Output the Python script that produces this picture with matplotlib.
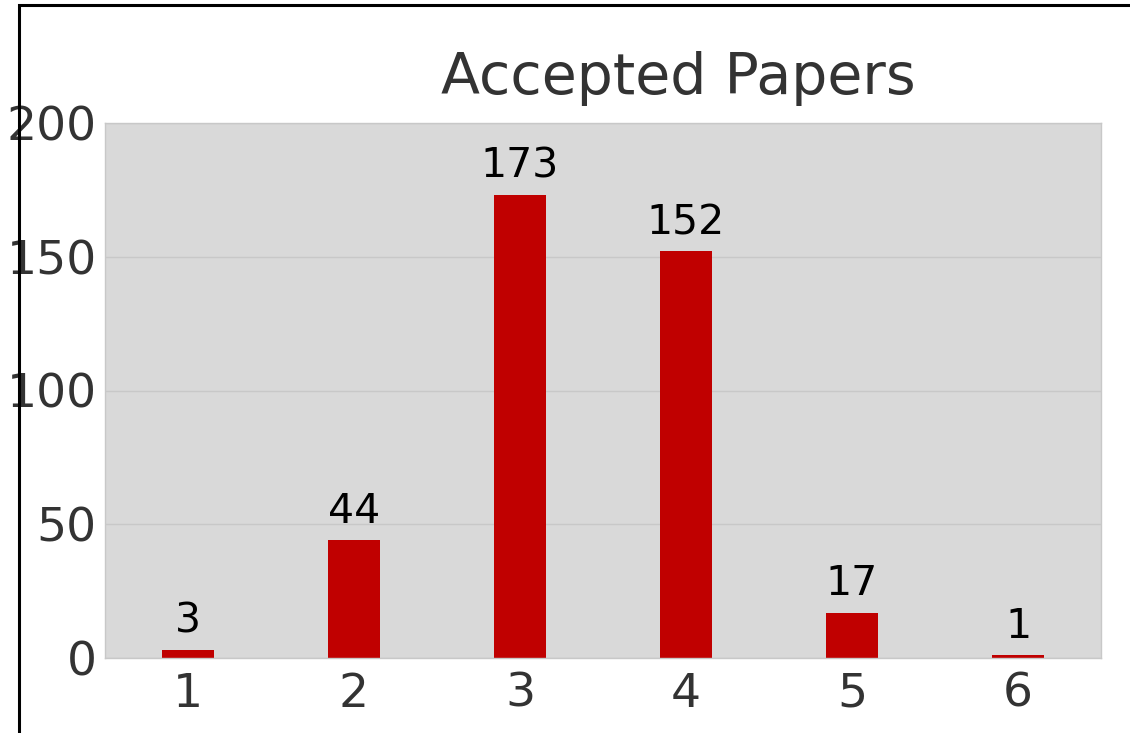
import matplotlib
matplotlib.use("Agg")
import matplotlib.pyplot as plt
from matplotlib.patches import Rectangle

categories = [1, 2, 3, 4, 5, 6]
values = [3, 44, 173, 152, 17, 1]
yticks = [0, 50, 100, 150, 200]
title = "Accepted Papers"

W, H = 1130, 733
fig = plt.figure(figsize=(W / 100, H / 100), dpi=100)
ax = fig.add_axes([105 / W, 1 - 658 / H, (1101 - 105) / W, (658 - 123) / H])
ax.set_facecolor("#d9d9d9")
ax.set_axisbelow(True)
ax.grid(axis="y", color="#c8c8c8", linewidth=1)
ax.grid(axis="x", visible=False)

bars = ax.bar(categories, values, width=0.315, color="#c00000", zorder=2)
for x, v in zip(categories, values):
    ax.annotate(str(v), (x, v), xytext=(0, 6), textcoords="offset points",
                ha="center", va="bottom", fontsize=29.5, color="black")

ax.set_xlim(0.5, 6.5)
ax.set_ylim(0, 200)
ax.set_xticks(categories)
ax.set_yticks(yticks)
ax.tick_params(axis="both", length=0, labelsize=34, labelcolor="#333333")
ax.tick_params(axis="y", pad=6)
ax.tick_params(axis="x", pad=10)
for s in ax.spines.values():
    s.set_color("#c8c8c8")
    s.set_linewidth(1)

fig.text(678 / W, 1 - 79 / H, title, ha="center", va="center", fontsize=41, color="#333333")

fig.patches.append(Rectangle((19 / W, -0.5), 2.0, 0.5 + 1 - 5 / H, transform=fig.transFigure,
                             fill=False, edgecolor="black", linewidth=2.2, zorder=10))

fig.savefig("out.png", dpi=100)
